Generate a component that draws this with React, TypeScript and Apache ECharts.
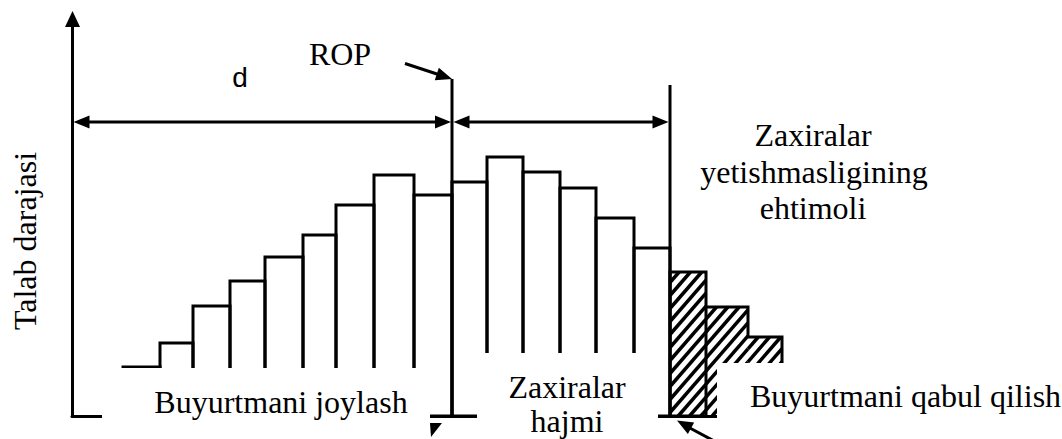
import React, { useEffect, useRef } from "react";
import * as echarts from "echarts";

const W = 1062;
const H = 439;

// Bin edges along the time axis (axis units) and demand level of each bin
const binEdges = [51, 88, 121, 158, 193, 231, 264, 302, 342, 380, 415, 451, 488, 524, 562, 598, 634, 676, 710];
const demandLevels = [12.25, 18.25, 27.5, 33.75, 39.75, 45.25, 52.75, 60.25, 55.25, 58.5, 64.75, 61, 57, 49.5, 42, 36, 27.25, 19.75];
const shortageFrom = 15; // first hatched bin (stock-out probability)
const tailFrom = 16; // hatched bins drawn as one stepped block

const SERIF = "Liberation Serif";
const SANS = "Liberation Sans";
const FS = 32;

function hatchLines(x0: number, y0: number, x1: number, y1: number) {
  const spacing = 13;
  const k = 1.15;
  const out: any[] = [];
  const cMin = y0 + k * x0;
  const cMax = y1 + k * x1;
  const start = Math.ceil(cMin / spacing) * spacing;
  for (let c = start; c <= cMax; c += spacing) {
    const xa = Math.max(x0, (c - y1) / k);
    const xb = Math.min(x1, (c - y0) / k);
    if (xb > xa + 0.5) {
      out.push({
        type: "line",
        shape: { x1: xa, y1: c - k * xa, x2: xb, y2: c - k * xb },
        style: { stroke: "#000", lineWidth: 3.5 },
      });
    }
  }
  return out;
}

function head(tx: number, ty: number, fx: number, fy: number, len = 16, half = 6.5) {
  const dx = tx - fx;
  const dy = ty - fy;
  const d = Math.sqrt(dx * dx + dy * dy);
  const ux = dx / d;
  const uy = dy / d;
  const bx = tx - ux * len;
  const by = ty - uy * len;
  return {
    type: "polygon",
    z: 30,
    shape: {
      points: [
        [tx, ty],
        [bx - uy * half, by + ux * half],
        [bx + uy * half, by - ux * half],
      ],
    },
    style: { fill: "#000" },
  };
}

function seg(x1: number, y1: number, x2: number, y2: number, w = 3) {
  return { type: "line", z: 30, shape: { x1, y1, x2, y2 }, style: { stroke: "#000", lineWidth: w } };
}

function txt(text: string, x: number, y: number, align: string, family: string, size: number, rotation = 0) {
  return {
    type: "text",
    z: 40,
    x,
    y,
    rotation,
    style: {
      text,
      fill: "#000",
      fontSize: size,
      fontFamily: family,
      align,
      verticalAlign: "middle",
    },
  };
}

function cover(x: number, y: number, w: number, h: number) {
  return { type: "rect", z: 20, shape: { x, y, width: w, height: h }, style: { fill: "#fff" } };
}

export default function App() {
  const ref = useRef<HTMLDivElement>(null);

  useEffect(() => {
    if (!ref.current) return;
    const chart = echarts.init(ref.current, undefined, { renderer: "svg" });

    const mainData = binEdges.slice(0, tailFrom).map((e, i) => [
      e,
      binEdges[i + 1],
      demandLevels[i],
      i >= shortageFrom ? 1 : 0,
    ]);
    const tailData = demandLevels.slice(tailFrom).map((v, j) => {
      const i = tailFrom + j;
      return [binEdges[i], binEdges[i + 1], v, demandLevels[i + 1] ?? 0];
    });

    const option: any = {
      animation: false,
      backgroundColor: "#fff",
      grid: { left: 72, right: 0, top: 20, bottom: H - 416 },
      xAxis: {
        type: "value",
        min: 0,
        max: 990,
        axisLine: { show: true, lineStyle: { color: "#000", width: 3 } },
        axisTick: { show: false },
        axisLabel: { show: false },
        splitLine: { show: false },
      },
      yAxis: {
        type: "value",
        min: 0,
        max: 99,
        axisLine: { show: true, lineStyle: { color: "#000", width: 3 } },
        axisTick: { show: false },
        axisLabel: { show: false },
        splitLine: { show: false },
      },
      series: [
        {
          type: "custom",
          z: 3,
          encode: { x: [0, 1], y: 2 },
          data: mainData,
          renderItem: (_p: any, api: any) => {
            const a = api.coord([api.value(0), api.value(2)]);
            const b = api.coord([api.value(1), 0]);
            const children: any[] = [];
            if (api.value(3)) children.push(...hatchLines(a[0], a[1], b[0], b[1]));
            children.push({
              type: "rect",
              shape: { x: a[0], y: a[1], width: b[0] - a[0], height: b[1] - a[1] },
              style: { fill: "none", stroke: "#000", lineWidth: 3 },
            });
            return { type: "group", children };
          },
        },
        {
          type: "custom",
          z: 2,
          encode: { x: [0, 1], y: 2 },
          data: tailData,
          renderItem: (_p: any, api: any) => {
            const a = api.coord([api.value(0), api.value(2)]);
            const b = api.coord([api.value(1), 0]);
            const n = api.coord([api.value(1), api.value(3)]);
            const children: any[] = hatchLines(a[0], a[1], b[0], b[1]);
            children.push({
              type: "polyline",
              shape: { points: [[a[0], a[1]], [b[0], a[1]], [b[0], n[1]]] },
              style: { fill: "none", stroke: "#000", lineWidth: 3 },
            });
            return { type: "group", children };
          },
        },
      ],
      graphic: [
        // white label backgrounds
        cover(102, 368, 328, 80),
        cover(477, 353, 181, 90),
        cover(717, 363, 345, 80),
        // y axis arrowhead
        { type: "polygon", z: 30, shape: { points: [[72.5, 11], [65, 27], [80, 27]] }, style: { fill: "#000" } },
        // dimension lines
        seg(80, 122, 446, 122),
        head(73.5, 122, 100, 122),
        head(451, 122, 400, 122),
        seg(458, 122, 664, 122),
        head(453.5, 122, 500, 122),
        head(668.5, 122, 600, 122),
        // ROP and right vertical lines
        seg(452, 79, 452, 416),
        seg(670, 85, 670, 416),
        // ROP pointer
        seg(405, 63.5, 440, 75),
        head(452, 79, 405, 63.5),
        // bottom arrows
        { type: "polygon", z: 30, shape: { points: [[430, 423], [442, 423], [431, 437]] }, style: { fill: "#000" } },
        seg(688, 427, 716, 442),
        head(677, 420.5, 716, 442),
        // texts
        txt("d", 240, 77, "center", SANS, 28),
        txt("ROP", 340, 54, "center", SERIF, FS),
        txt("Zaxiralar", 813, 135, "center", SERIF, FS),
        txt("yetishmasligining", 814, 171.5, "center", SERIF, FS),
        txt("ehtimoli", 813, 207.5, "center", SERIF, FS),
        txt("Buyurtmani joylash", 281, 401.5, "center", SERIF, FS),
        txt("Zaxiralar", 567, 386.5, "center", SERIF, FS),
        txt("hajmi", 567, 420.5, "center", SERIF, FS),
        txt("Buyurtmani qabul qilish", 750, 396, "left", SERIF, FS),
        txt("Talab darajasi", 24.5, 241, "center", SERIF, FS, Math.PI / 2),
      ],
    };

    chart.setOption(option);
    return () => chart.dispose();
  }, []);

  return (
    <div
      ref={ref}
      style={{ position: "fixed", left: 0, top: 0, width: W, height: H, background: "#fff" }}
    />
  );
}
